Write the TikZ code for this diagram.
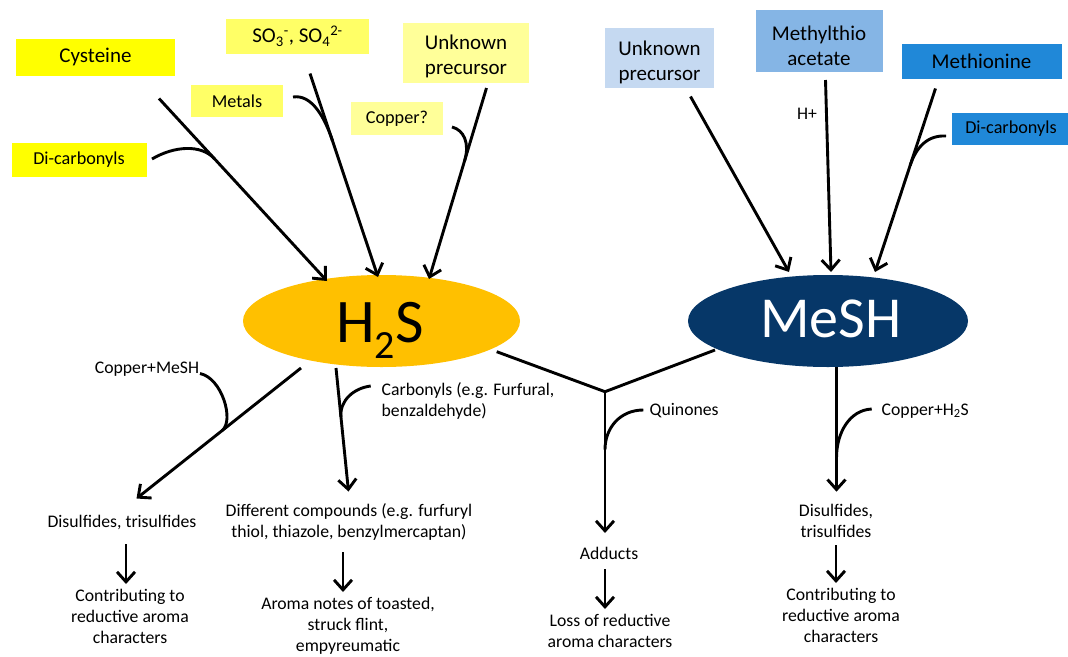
\documentclass[tikz,border=0pt]{standalone}
\usepackage{fontspec}
\setmainfont{Carlito}
\usetikzlibrary{arrows.meta,shapes.geometric,calc}
\definecolor{yA}{HTML}{FFFF00}
\definecolor{yB}{HTML}{FFFF66}
\definecolor{yC}{HTML}{FFFF99}
\definecolor{bA}{HTML}{C5D9F1}
\definecolor{bB}{HTML}{85B5E5}
\definecolor{bC}{HTML}{2088D8}
\definecolor{hC}{HTML}{FFC000}
\definecolor{mC}{HTML}{063768}
\newcommand\fBig{\fontsize{21}{24.5}\selectfont}
\newcommand\fMid{\fontsize{18.2}{21}\selectfont}
\newcommand\fSm{\fontsize{17.7}{21}\selectfont}
\newcommand\tup[1]{\rule{0pt}{#1}}
\begin{document}
\begin{tikzpicture}[x=1pt,y=-1pt,
  box/.style={inner sep=0pt, align=center, anchor=center},
  lbl/.style={inner sep=0pt, align=center, font=\fSm},
  flow/.style={line width=2.9pt, -{Straight Barb[length=10pt,width=18pt,line width=2.9pt]}},
  side/.style={line width=2.9pt},
]
\useasboundingbox[fill=white] (0,0) rectangle (1068,656);

% ---------- H2S precursors ----------
\node[box, fill=yA, minimum width=159pt, minimum height=37pt, font=\fBig] (cys) at (95.5,57) {Cysteine};
\node[box, fill=yB, minimum width=143pt, minimum height=35pt, font=\fBig] (so) at (297.5,36) {SO\textsubscript{3}\textsuperscript{-}, SO\textsubscript{4}\textsuperscript{2-}};
\node[box, fill=yC, minimum width=126pt, minimum height=60pt, font=\fBig] (unkL) at (466,52.7) {\tup{22pt}Unknown\\precursor};
\node[box, fill=yB, minimum width=92pt, minimum height=32pt, font=\fMid] (met) at (237,101) {Metals};
\node[box, fill=yC, minimum width=92pt, minimum height=33pt, font=\fMid] (cop) at (397,118.5) {Copper?};
\node[box, fill=yA, minimum width=135pt, minimum height=33.5pt, font=\fMid] (dcL) at (79,160) {Di-carbonyls};

% ---------- MeSH precursors ----------
\node[box, fill=bA, minimum width=109pt, minimum height=60pt, font=\fBig] (unkR) at (659.5,57.7) {\tup{24pt}Unknown\\precursor};
\node[box, fill=bB, minimum width=127pt, minimum height=62pt, font=\fBig] (mta) at (819,41) {\tup{24.5pt}Methylthio\\acetate};
\node[box, fill=bC, minimum width=160pt, minimum height=35pt, font=\fBig] (mth) at (981.5,61) {Methionine};
\node[box, fill=bC, minimum width=118pt, minimum height=32pt, font=\fMid] (dcR) at (1011,128.5) {Di-carbonyls};
\node[lbl] (hplus) at (807,114) {H+};

% ---------- central species ----------
\node[ellipse, fill=hC, minimum width=277pt, minimum height=92pt, inner sep=0pt] (h2s) at (381.5,321) {};
\node[anchor=base, inner sep=0pt, font=\fontsize{62}{62}\selectfont] (h2sT) at (380,342) {H\raisebox{-16pt}{\fontsize{40}{40}\selectfont 2}S};
\node[ellipse, fill=mC, minimum width=280pt, minimum height=92pt, inner sep=0pt] (mesh) at (828,321) {};
\node[anchor=base, inner sep=0pt, text=white, font=\fontsize{58}{58}\selectfont] (meshT) at (831,337) {MeSH};

% ---------- incoming arrows to H2S ----------
\coordinate (cysS) at (159,98.5); \coordinate (cysE) at (327,281);
\coordinate (soS)  at (310,73.5); \coordinate (soE)  at (378,277);
\coordinate (unlS) at (486.5,88); \coordinate (unlE) at (429,279);
\draw[flow] (cysS) -- (cysE);
\draw[flow] (soS) -- (soE);
\draw[flow] (unlS) -- (unlE);
\coordinate (dcLs) at (152,159);  \coordinate (dcLj) at ($(cysS)!0.33!(cysE)$);
\draw[side] (dcLs) .. controls (174,146) and ($(dcLj)!20pt!(cysS)$) .. (dcLj);
\coordinate (mets) at (293,97);   \coordinate (metj) at ($(soS)!0.33!(soE)$);
\draw[side] (mets) .. controls (312,94) and ($(metj)!24pt!(soS)$) .. (metj);
\coordinate (cops) at (452,127);  \coordinate (copj) at ($(unlS)!0.38!(unlE)$);
\draw[side] (cops) .. controls (464,130) and ($(copj)!18pt!(unlS)$) .. (copj);

% ---------- incoming arrows to MeSH ----------
\coordinate (unrS) at (690.5,96.5); \coordinate (unrE) at (789,272);
\coordinate (mtaS) at (825.5,80);   \coordinate (mtaE) at (831,272);
\coordinate (mthS) at (935.5,88.5); \coordinate (mthE) at (875,272);
\draw[flow] (unrS) -- (unrE);
\draw[flow] (mtaS) -- (mtaE);
\draw[flow] (mthS) -- (mthE);
\coordinate (dcRs) at (946,136);  \coordinate (dcRj) at ($(mthS)!0.42!(mthE)$);
\draw[side] (dcRs) .. controls (928,135) and ($(dcRj)!20pt!(mthS)$) .. (dcRj);

% ---------- H2S products ----------
\coordinate (cmS) at (301,368);   \coordinate (cmE) at (136.5,498.5);
\draw[flow] (cmS) -- (cmE);
\coordinate (cmC) at (200,373.5); \coordinate (cmJ) at ($(cmS)!0.48!(cmE)$);
\draw[side] (cmC) .. controls (222,378) and ($(cmJ)!16pt!(cmS)$) .. (cmJ);
\node[lbl] (cmL) at (147,369) {Copper+MeSH};

\coordinate (cbS) at (336,368);   \coordinate (cbE) at (348.5,491.5);
\draw[flow] (cbS) -- (cbE);
\coordinate (cbC) at (370.7,386); \coordinate (cbJ) at ($(cbS)!0.4!(cbE)$);
\draw[side] (cbC) .. controls (354,388) and ($(cbJ)!17pt!(cbS)$) .. (cbJ);
\node[lbl, anchor=west, align=left] (cbL) at (381.5,401) {Carbonyls (e.g. Furfural,\\benzaldehyde)};

\node[lbl] (disL) at (122,522) {Disulfides, trisulfides};
\coordinate (a1S) at (126,544);   \coordinate (a1E) at (126,584);
\draw[flow] (a1S) -- (a1E);
\node[lbl] (conL) at (130,616) {Contributing to\\reductive aroma\\characters};

\node[lbl] (difC) at (349,522) {Different compounds (e.g. furfuryl\\thiol, thiazole, benzylmercaptan)};
\coordinate (a2S) at (343,552);   \coordinate (a2E) at (343,592);
\draw[flow] (a2S) -- (a2E);
\node[lbl] (aroma) at (348,626) {Aroma notes of toasted,\\struck flint,\\empyreumatic};

% ---------- shared branch ----------
\coordinate (hjS) at (496.7,351.7); \coordinate (mjS) at (715,350);
\coordinate (jn) at (605,391.7);    \coordinate (adE) at (605,533);
\draw[side] (hjS) -- (jn) -- (mjS);
\draw[flow] (jn) -- (adE);
\coordinate (qS) at (643.3,410);    \coordinate (qJ) at ($(jn)!0.41!(adE)$);
\draw[side] (qS) .. controls (620,410) and (605,428) .. (qJ);
\node[lbl, anchor=west] (qL) at (649.5,411) {Quinones};
\node[lbl] (add) at (609,553.5) {Adducts};
\coordinate (a3S) at (605,569);   \coordinate (a3E) at (605,609);
\draw[flow] (a3S) -- (a3E);
\node[lbl] (loss) at (610,631) {Loss of reductive\\aroma characters};

% ---------- MeSH products ----------
\coordinate (msS) at (836.5,367); \coordinate (msE) at (836.5,491.7);
\draw[flow] (msS) -- (msE);
\coordinate (chS) at (871.7,409); \coordinate (chJ) at ($(msS)!0.73!(msE)$);
\draw[side] (chS) .. controls (850,410) and (836.5,432) .. (chJ);
\node[lbl, anchor=west] (chL) at (881.5,411) {Copper+H\textsubscript{2}S};
\node[lbl] (disR) at (836,521) {Disulfides,\\trisulfides};
\coordinate (a4S) at (836,545);   \coordinate (a4E) at (836,583);
\draw[flow] (a4S) -- (a4E);
\node[lbl] (conR) at (841,615.5) {Contributing to\\reductive aroma\\characters};
\end{tikzpicture}
\end{document}
